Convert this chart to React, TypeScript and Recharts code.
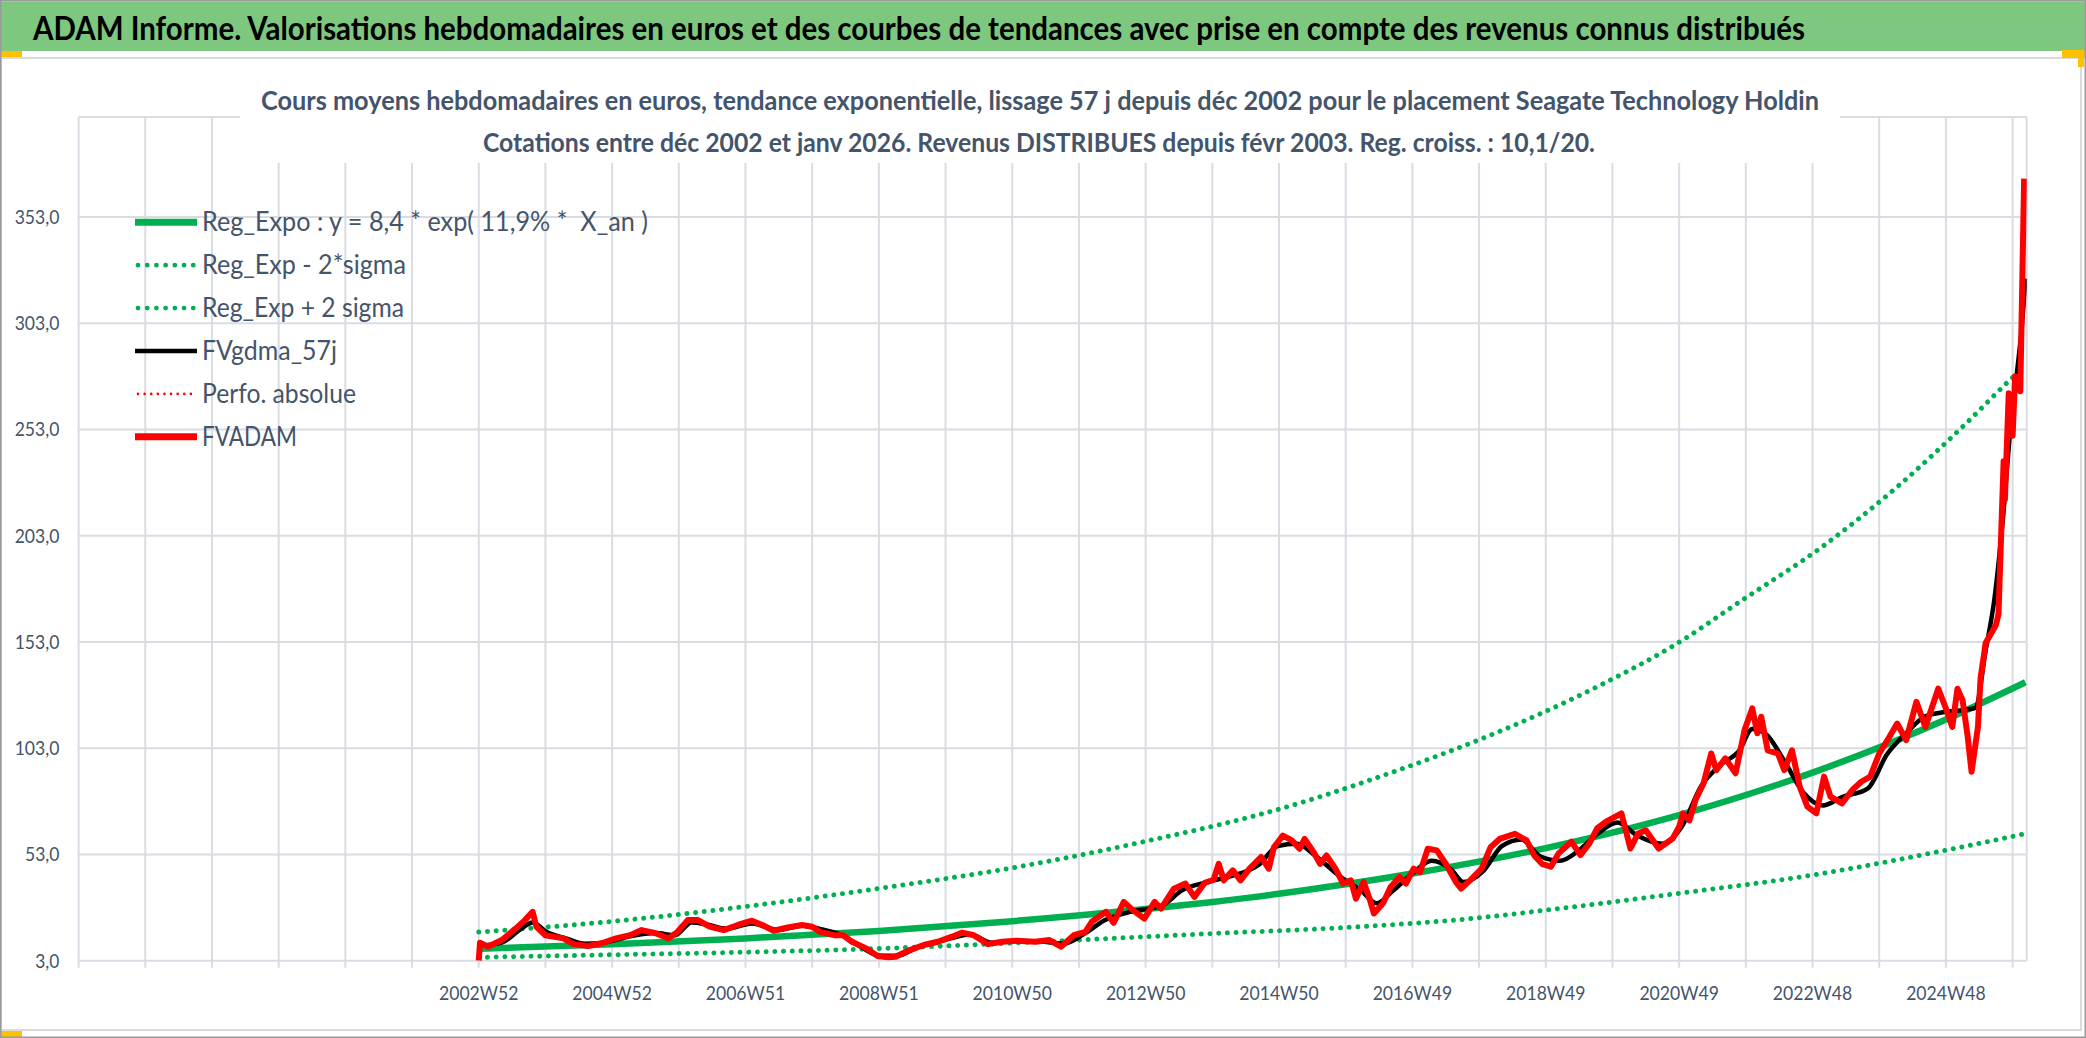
import React from 'react';
import { LineChart, Line, XAxis, YAxis, CartesianGrid, Legend } from 'recharts';

const W = 2086;
const H = 1038;
const FONT = "Lato, 'Open Sans', 'DejaVu Sans', sans-serif";
const TEXT = '#44546A';
const GRID = '#D9DCE3';
const GREEN = '#00B050';
const RED = '#FF0000';

// ---- texts ----
const titleText = 'ADAM Informe. Valorisations hebdomadaires en euros et des courbes de tendances avec prise en compte des revenus connus distribués';
const subtitle1 = 'Cours moyens hebdomadaires en euros, tendance exponentielle, lissage 57 j depuis déc 2002 pour le placement Seagate Technology Holdin';
const subtitle2 = 'Cotations entre déc 2002 et janv 2026. Revenus DISTRIBUES depuis févr 2003. Reg. croiss. : 10,1/20.';
const seriesNames = [
  'Reg_Expo : y = 8,4 * exp( 11,9% *  X_an )',
  'Reg_Exp - 2*sigma',
  'Reg_Exp + 2 sigma',
  'FVgdma_57j',
  'Perfo. absolue',
  'FVADAM',
];

// ---- axes (week index: 0 = first category, 312 = 2002W52) ----
const gridWeeks = [0, 52, 104, 156, 208, 260, 312, 364, 416, 468, 520, 572, 624, 676, 728, 780, 832, 884, 936, 988, 1040, 1092, 1144, 1196, 1248, 1300, 1352, 1404, 1456, 1508];
const labelWeeks = [312, 416, 520, 624, 728, 832, 936, 1040, 1144, 1248, 1352, 1456];
const labelTexts = ['2002W52', '2004W52', '2006W51', '2008W51', '2010W50', '2012W50', '2014W50', '2016W49', '2018W49', '2020W49', '2022W48', '2024W48'];
const yTicks = [3, 53, 103, 153, 203, 253, 303, 353];

// ---- series ----
const regWeeks = [312, 416, 520, 624, 728, 832, 936, 1040, 1144, 1248, 1352, 1456, 1518];
const regValues = [8.6, 10.7, 13.5, 17, 21.6, 27.3, 34.5, 44, 56, 71.5, 91.5, 116.5, 134];

const lowerWeeks = [312, 416, 520, 624, 731, 885, 996, 1080, 1154, 1248, 1352, 1456, 1516];
const lowerValues = [4.6, 5.8, 7, 8.7, 11.4, 15.8, 18.9, 22.5, 27.5, 34.7, 43.3, 55, 62.5];

const upperWeeks = [312, 416, 520, 624, 731, 829, 940, 1024, 1088, 1139, 1191, 1243, 1297, 1360, 1420, 1472, 1508, 1516];
const upperValues = [16.5, 21.5, 28.5, 37, 47, 58.8, 75, 91.6, 106, 119, 134, 151, 172.6, 198, 227, 256, 277.5, 282];

const smoothWeeks = [312, 330, 345, 354, 365, 380, 395, 410, 430, 450, 465, 478, 490, 505, 525, 545, 565, 578, 595, 610, 625, 638, 655, 680, 695, 712, 731, 750, 768, 785, 800, 820, 845, 860, 880, 900, 920, 935, 950, 965, 985, 1000, 1012, 1025, 1040, 1055, 1070, 1080, 1095, 1110, 1125, 1140, 1155, 1170, 1185, 1200, 1215, 1235, 1250, 1265, 1280, 1295, 1305, 1315, 1330, 1345, 1360, 1375, 1395, 1410, 1425, 1440, 1455, 1470, 1479, 1487, 1494, 1500, 1507, 1512, 1515, 1518];
const smoothValues = [10, 11.5, 18, 21, 16.5, 13.5, 11, 11.5, 14.5, 16, 15, 21, 20, 18, 20.5, 17.5, 19.5, 18, 15, 9.5, 5.3, 5.3, 9.5, 13.5, 15.5, 11.5, 12.3, 12, 11, 16, 22, 26, 29, 36, 40, 43, 48, 57, 58, 52, 42, 36, 30, 36, 44, 50, 46, 40, 45, 57, 60, 52, 50, 55, 63, 68, 62, 58, 66, 85, 95, 102, 112, 110, 97, 82, 76, 80, 84, 100, 110, 118, 120, 121, 122, 149, 174, 208, 258, 283, 300, 324];

const priceWeeks = [312, 313, 319, 330, 341, 348, 354, 357, 364, 378, 386, 397, 408, 419, 430, 439, 450, 460, 467, 475, 483, 492, 503, 514, 525, 533, 542, 553, 564, 572, 578, 589, 596, 603, 614, 623, 631, 637, 648, 659, 670, 681, 689, 698, 709, 720, 731, 746, 757, 766, 776, 785, 790, 801, 807, 815, 822, 831, 839, 844, 854, 863, 870, 878, 885, 889, 893, 900, 906, 913, 922, 928, 932, 939, 946, 952, 956, 963, 968, 973, 980, 986, 992, 996, 1002, 1007, 1010, 1017, 1023, 1030, 1035, 1041, 1046, 1052, 1059, 1066, 1074, 1078, 1085, 1094, 1101, 1108, 1120, 1129, 1135, 1141, 1148, 1154, 1164, 1171, 1178, 1184, 1191, 1203, 1210, 1216, 1222, 1232, 1243, 1248, 1251, 1256, 1261, 1267, 1273, 1277, 1284, 1292, 1299, 1305, 1309, 1312, 1317, 1325, 1330, 1336, 1342, 1348, 1355, 1361, 1366, 1375, 1383, 1390, 1397, 1404, 1412, 1418, 1425, 1433, 1440, 1450, 1456, 1461, 1465, 1469, 1473, 1476, 1481, 1483, 1487, 1495, 1497, 1501, 1502, 1505, 1508, 1510, 1513, 1514, 1517];
const priceValues = [3, 11.5, 9.6, 12.7, 18.2, 22.1, 26, 19, 15, 13.5, 10.8, 9.9, 11.2, 13.5, 15, 17.4, 15.9, 13.5, 16.6, 22.1, 22.1, 19, 17.4, 19.8, 21.8, 19.8, 17.1, 18.7, 19.8, 19, 16.6, 15, 15, 11.9, 8.8, 5.2, 4.6, 4.9, 8, 10.4, 11.9, 14.3, 16.2, 15, 10.8, 11.9, 12.4, 11.9, 12.7, 9.6, 15, 16.6, 21.3, 26, 20.8, 30.7, 26.8, 22.8, 30.7, 27.5, 36.9, 39.3, 33, 39.6, 41.1, 48.6, 40.8, 45.5, 40.8, 46.3, 51.8, 46.3, 56.4, 61.9, 59.6, 55.7, 60.3, 54.1, 48.6, 52.5, 46.3, 39.3, 40.8, 32.2, 40, 31.4, 25.2, 29.9, 37.7, 42.4, 39.3, 46.3, 44.7, 55.7, 54.9, 48.6, 40, 36.9, 40.8, 46.3, 56.4, 60.3, 62.7, 59.6, 52.5, 48.6, 47.2, 53.5, 59, 52.7, 58.2, 65.2, 68.4, 72.3, 55.8, 62.9, 64.4, 55.8, 60.5, 66, 72.3, 69, 79, 86.4, 100.5, 92.7, 98.2, 91.2, 111.5, 121.7, 110, 117.8, 102, 100.5, 92.7, 102, 84.9, 75.5, 72.4, 89.6, 80.2, 77, 83.3, 87.2, 89.6, 100.5, 108.4, 114.6, 106.8, 124.8, 113, 131, 121.7, 113, 131, 125.6, 108.4, 91.9, 113, 135.8, 152.5, 161, 166, 238, 220, 270, 250, 278, 277, 271, 371];

function pairs(weeks: number[], values: number[]) {
  return weeks.map((w, k) => ({ w, v: values[k] }));
}

const regData = pairs(regWeeks, regValues);
const lowerData = pairs(lowerWeeks, lowerValues);
const upperData = pairs(upperWeeks, upperValues);
const smoothData = pairs(smoothWeeks, smoothValues);
const priceData = pairs(priceWeeks, priceValues);

// ---- styles ----
const DOT = '0.01 8.7';
const legendStyle = [
  { color: GREEN, width: 7, dash: undefined, cap: 'butt', len: 446 },
  { color: GREEN, width: 4.8, dash: '0.01 9.2', cap: 'round', len: 204 },
  { color: GREEN, width: 4.8, dash: '0.01 9.2', cap: 'round', len: 202 },
  { color: '#000000', width: 4.5, dash: undefined, cap: 'butt', len: 135 },
  { color: RED, width: 2.6, dash: '0.01 6.6', cap: 'round', len: 154 },
  { color: RED, width: 7, dash: undefined, cap: 'butt', len: 95 },
];

const XTick = (props: any) => {
  const { x, y, payload } = props;
  const k = labelWeeks.indexOf(payload.value);
  if (k < 0) return <g />;
  return (
    <text x={x} y={y + 30} textAnchor="middle" fontFamily={FONT} fontSize={20} fill={TEXT}
      textLength={79.5} lengthAdjust="spacingAndGlyphs">{labelTexts[k]}</text>
  );
};

const YTick = (props: any) => {
  const { y, payload } = props;
  const s = Number(payload.value).toFixed(1).replace('.', ',');
  const digits = s.length - 2;
  return (
    <text x={59.4} y={y + 7} textAnchor="end" fontFamily={FONT} fontSize={20} fill={TEXT}
      textLength={digits * 10.3 + 13.8} lengthAdjust="spacingAndGlyphs">{s}</text>
  );
};

const LegendBox = () => (
  <svg width={700} height={470} style={{ overflow: 'visible', display: 'block' }}>
    {seriesNames.map((name, k) => {
      const st = legendStyle[k];
      const cy = 222.3 + 42.9 * k;
      return (
        <g key={name}>
          <line x1={st.dash ? 138 : 135} x2={st.dash ? 194 : 197} y1={cy} y2={cy} stroke={st.color}
            strokeWidth={st.width} strokeDasharray={st.dash} strokeLinecap={st.cap as any} />
          <text x={202} y={cy + 9} fontFamily={FONT} fontSize={26} fill={TEXT} style={{ whiteSpace: 'pre' }}
            textLength={st.len} lengthAdjust="spacingAndGlyphs">{name}</text>
        </g>
      );
    })}
  </svg>
);

export default function App() {
  return (
    <div style={{ position: 'absolute', left: 0, top: 0, width: W, height: H, background: '#fff', overflow: 'hidden' }}>
      <svg width={W} height={H} style={{ position: 'absolute', left: 0, top: 0 }}>
        <rect x={0} y={0} width={W} height={H} fill="#ffffff" />
        <rect x={1} y={58} width={2080} height={972} fill="none" stroke="#DADADA" strokeWidth={2} />
        <rect x={0} y={1.5} width={W} height={49.5} fill="#7EC77E" />
        <text x={33} y={39.5} fontFamily={FONT} fontWeight={700} fontSize={32} fill="#000"
          textLength={1772} lengthAdjust="spacingAndGlyphs">{titleText}</text>
        <rect x={0} y={51} width={22} height={6} fill="#FFC000" />
        <rect x={2062} y={50} width={24} height={8} fill="#FFC000" />
        <rect x={2078} y={50} width={6} height={17} fill="#FFC000" />
        <rect x={0} y={1031} width={22} height={6} fill="#FFC000" />
        <rect x={0.75} y={0.75} width={W - 1.5} height={H - 1.5} fill="none" stroke="#9A9A9A" strokeWidth={1.5} />
      </svg>
      <div style={{ position: 'absolute', left: 0, top: 0 }}>
        <LineChart width={W} height={H} margin={{ top: 117, right: 59.3, bottom: 37.3, left: 0 }}>
          <CartesianGrid stroke={GRID} strokeWidth={2} />
          <XAxis type="number" dataKey="w" domain={[0, 1519]} ticks={gridWeeks} interval={0}
            allowDataOverflow height={40} axisLine={false} tickSize={7}
            tickLine={{ stroke: GRID, strokeWidth: 2 }} tick={<XTick />} />
          <YAxis type="number" dataKey="v" domain={[3, 400]} ticks={yTicks} interval={0}
            allowDataOverflow width={78.6} axisLine={false} tickLine={false} tickSize={0} tick={<YTick />} />
          <Legend layout="vertical" align="center" verticalAlign="middle" content={() => <LegendBox />}
            wrapperStyle={{ left: 0, top: 0, width: 700, height: 470, pointerEvents: 'none' }} />
          <Line data={regData} dataKey="v" name={seriesNames[0]} type="monotone" stroke={GREEN} strokeWidth={6.5}
            dot={false} activeDot={false} isAnimationActive={false} />
          <Line data={lowerData} dataKey="v" name={seriesNames[1]} type="monotone" stroke={GREEN} strokeWidth={5}
            strokeDasharray={DOT} strokeLinecap="round" dot={false} activeDot={false} isAnimationActive={false} />
          <Line data={upperData} dataKey="v" name={seriesNames[2]} type="monotone" stroke={GREEN} strokeWidth={5}
            strokeDasharray={DOT} strokeLinecap="round" dot={false} activeDot={false} isAnimationActive={false} />
          <Line data={smoothData} dataKey="v" name={seriesNames[3]} type="monotone" stroke="#000000" strokeWidth={4.5}
            dot={false} activeDot={false} isAnimationActive={false} />
          <Line data={priceData} dataKey="v" name={seriesNames[5]} type="linear" stroke={RED} strokeWidth={6}
            strokeLinejoin="round" dot={false} activeDot={false} isAnimationActive={false} />
        </LineChart>
      </div>
      <svg width={W} height={H} style={{ position: 'absolute', left: 0, top: 0, pointerEvents: 'none' }}>
        <rect x={240} y={60} width={1600} height={103} fill="#ffffff" />
        <text x={1040} y={110} textAnchor="middle" fontFamily={FONT} fontWeight={700} fontSize={27} fill={TEXT}
          textLength={1558} lengthAdjust="spacingAndGlyphs">{subtitle1}</text>
        <text x={1039} y={152} textAnchor="middle" fontFamily={FONT} fontWeight={700} fontSize={27} fill={TEXT}
          textLength={1112} lengthAdjust="spacingAndGlyphs">{subtitle2}</text>
      </svg>
    </div>
  );
}
